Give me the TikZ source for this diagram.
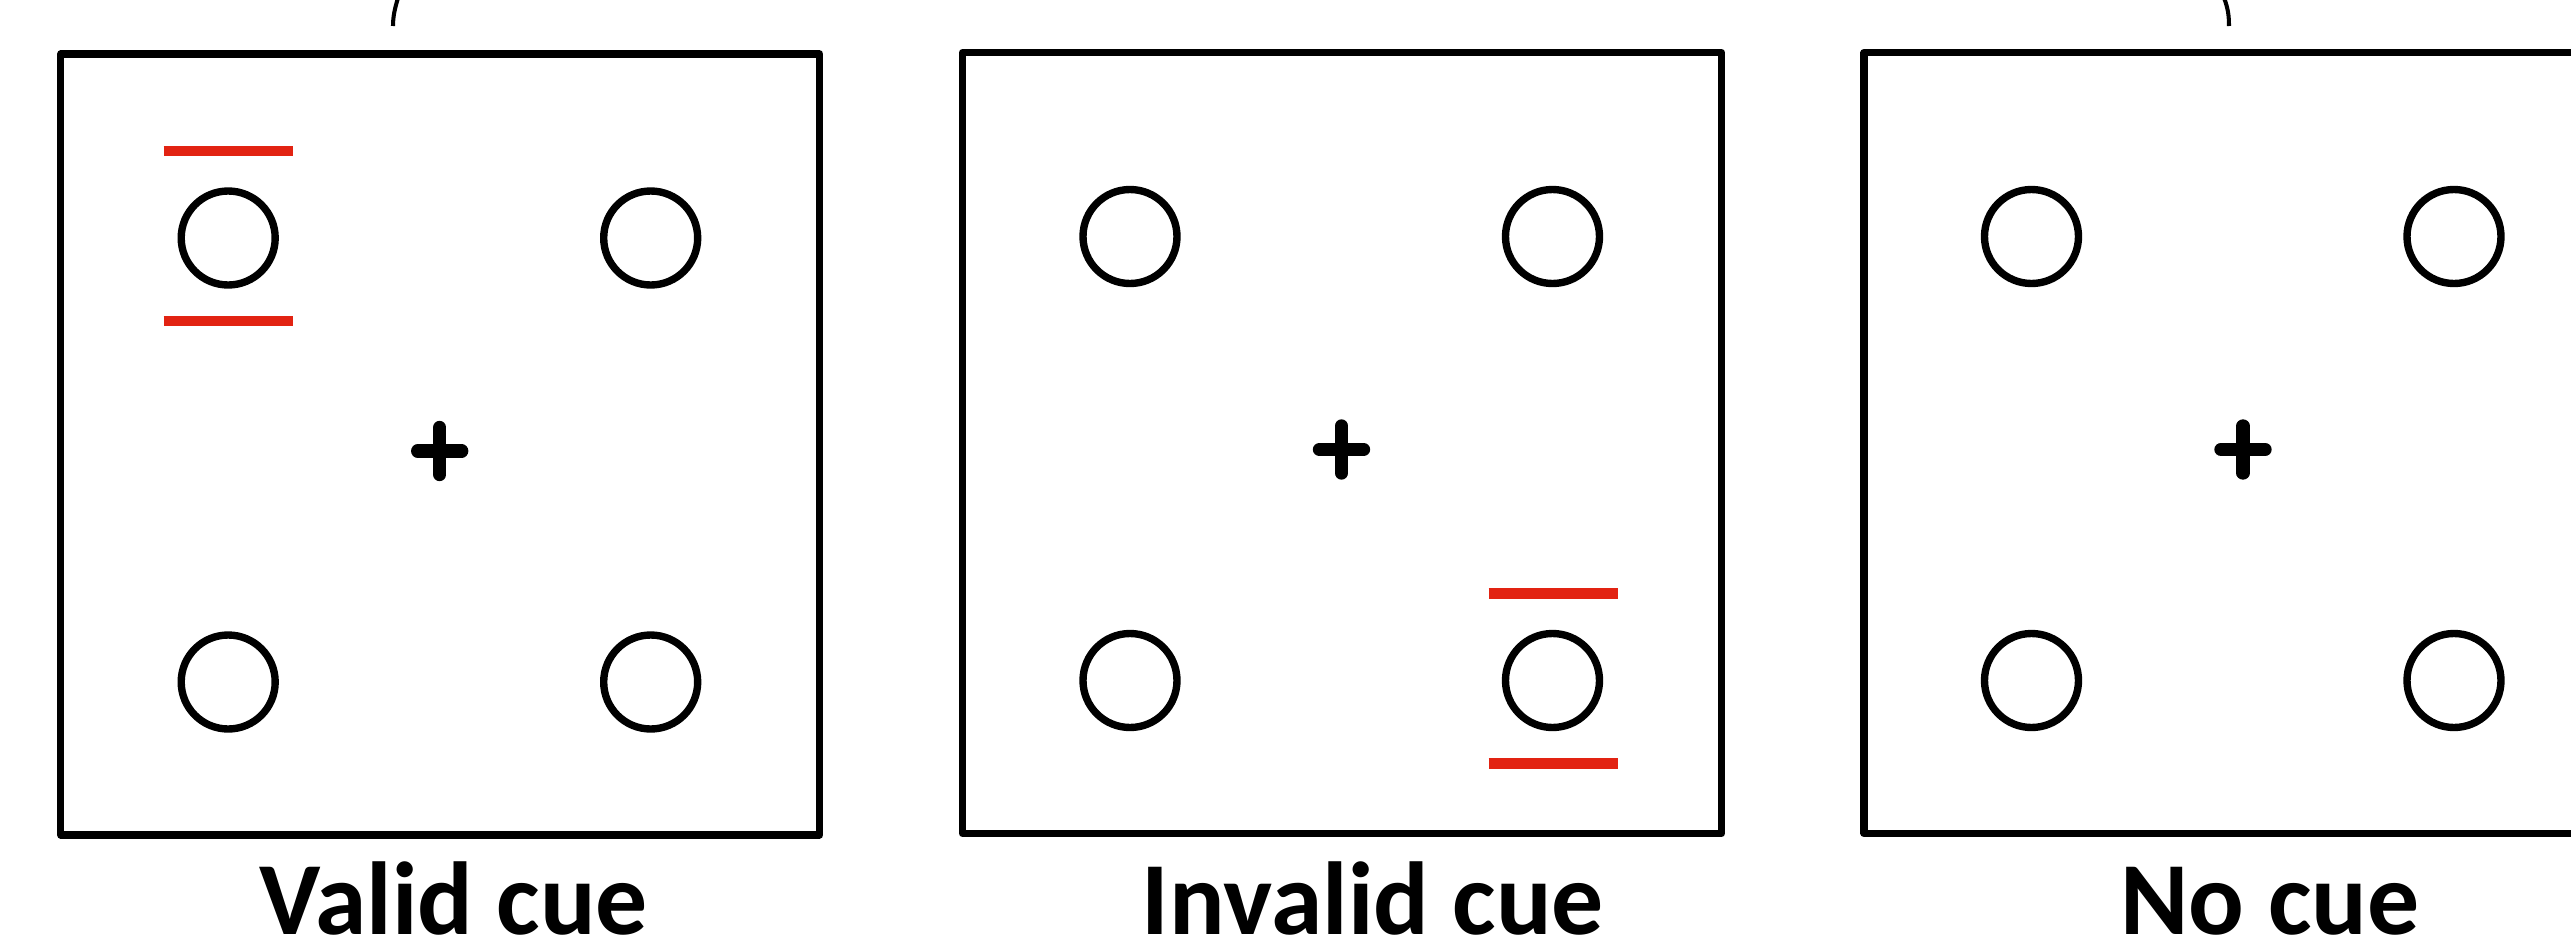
\documentclass[tikz,border=0pt]{standalone}
\usepackage{fontspec}
\setmainfont{Carlito}
\definecolor{cuered}{RGB}{226,35,18}
\tikzset{
  panel/.style={line width=2pt,line join=round},
  ring/.style={line width=2.1pt},
  cuebar/.style={cuered,line width=2.9pt},
  fixcross/.style={line width=3.8pt,line cap=round},
  caption/.style={anchor=base,inner sep=0pt,text depth=0pt,font=\fontsize{29.5}{32}\selectfont\bfseries},
}
\begin{document}
\begin{tikzpicture}[x=0.01cm,y=-0.01cm]
\useasboundingbox (0,0) rectangle (2571,948);
\clip (0,0) rectangle (2571,948);
\pgfmathsetmacro{\w}{759}
\pgfmathsetmacro{\h}{781}
\pgfmathsetmacro{\rad}{47}
  % the three screens, circles and fixation cross
  \foreach \px/\py in {60.7/54,962.5/52.5,1864/52.5} {
    \draw[panel] (\px,\py) rectangle ++(\w,\h);
    \foreach \cx in {167.5,590} \foreach \cy in {184,628}
      \draw[ring] (\px+\cx,\py+\cy) circle (\rad);
    \draw[fixcross] (\px+357,\py+397) -- (\px+401,\py+397);
    \draw[fixcross] (\px+379,\py+373.5) -- (\px+379,\py+420.5);
  }
  % cue bars
  \foreach \cx/\cy in {228.2/238,1553/680.5} {
    \draw[cuebar] (\cx-64.5,\cy-87) -- (\cx+64.5,\cy-87);
    \draw[cuebar] (\cx-64.5,\cy+83) -- (\cx+64.5,\cy+83);
  }
  % bits of the figure above
  \draw[line width=1.15pt] (398,-2) .. controls (395,8) and (393,16) .. (393,26);
  \draw[line width=1.15pt] (2224,-2) .. controls (2228,8) and (2229,16) .. (2229,26);
  \node[caption] (lblvalid) at (454,934) {Valid cue};
  \node[caption] (lblinvalid) at (1373,934) {Invalid cue};
  \node[caption] (lblnone) at (2270,934) {No cue};
\end{tikzpicture}
\end{document}
